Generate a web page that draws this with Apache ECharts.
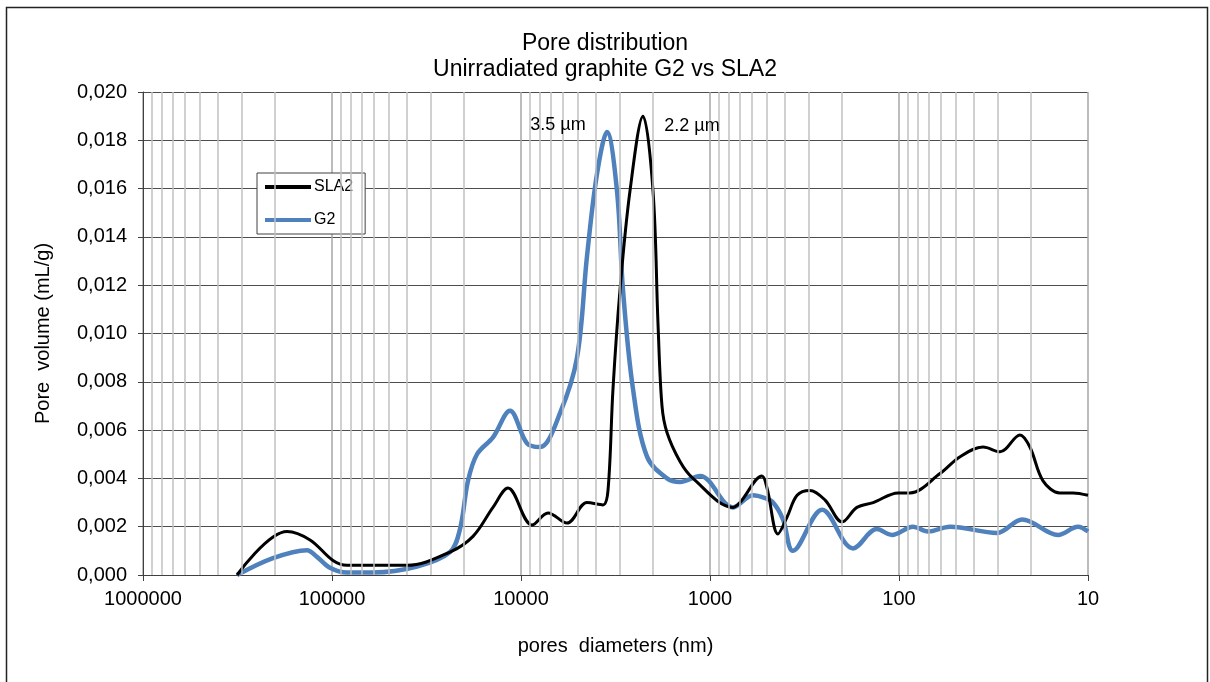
<!DOCTYPE html>
<html>
<head>
<meta charset="utf-8">
<script src="https://cdn.jsdelivr.net/npm/echarts@6/dist/echarts.min.js"></script>
<style>
  html, body { margin: 0; padding: 0; background: #fff; }
  #main { width: 1210px; height: 682px; }
</style>
</head>
<body>
<div id="main"></div>
<script>
// pore diameters (nm) and pore volumes (mL/g)
const sla2Diam = [318000, 173000, 130700, 98800, 83300, 60000, 40100, 23750, 17950, 14070, 11720, 8745, 7195, 5710, 4475, 3683, 3465, 3261, 2994, 2651, 2262, 2002, 1884, 1795, 1689, 1441, 1230, 755, 694, 531, 499, 437, 391, 346, 296, 246, 200, 167, 137, 101, 87.5, 60.7, 47.5, 35.9, 29.2, 22.9, 20.3, 17.3, 14.1, 12.0, 10]
const sla2Vol = [0, 0.0018, 0.00145, 0.0006, 0.0004, 0.0004, 0.0004, 0.00095, 0.0016, 0.0028, 0.0036, 0.00207, 0.00257, 0.00215, 0.003, 0.0029, 0.0035, 0.0077, 0.0118, 0.0159, 0.019, 0.0159, 0.0104, 0.007, 0.0059, 0.0047, 0.004, 0.0028, 0.003, 0.0041, 0.0036, 0.0017, 0.0024, 0.0033, 0.0035, 0.0031, 0.0022, 0.0028, 0.003, 0.0034, 0.0034, 0.0042, 0.0049, 0.0053, 0.0051, 0.0058, 0.0053, 0.0039, 0.0034, 0.0034, 0.0033]

const g2Diam = [318000, 205200, 135600, 120100, 102500, 83300, 60700, 35500, 23750, 21030, 19070, 17090, 14070, 11440, 9296, 7935, 6218, 5054, 4475, 3963, 3508, 3105, 2886, 2555, 2154, 1689, 1441, 1129, 755, 592, 520, 464, 411, 364, 255, 175, 131, 109, 84.3, 70.3, 53.7, 30.3, 22.3, 14.4, 11.3, 10]
const g2Vol = [0, 0.0007, 0.00103, 0.00075, 0.0003, 0.0001, 0.0001, 0.00035, 0.00095, 0.0019, 0.0039, 0.005, 0.0057, 0.0068, 0.00545, 0.0053, 0.0067, 0.009, 0.0132, 0.0166, 0.01834, 0.0159, 0.0118, 0.0077, 0.0049, 0.004, 0.00385, 0.0041, 0.0028, 0.0033, 0.0032, 0.003, 0.0023, 0.001, 0.0027, 0.0011, 0.0019, 0.00166, 0.002, 0.0018, 0.002, 0.00174, 0.0023, 0.00166, 0.002, 0.0018]

// peak annotations
const peakLabels = ['3.5 µm', '2.2 µm']

// minor gridlines of the log axis
const decades = [10, 100, 1000, 10000, 100000]
const minorMults = [2, 3, 4, 5, 6, 7, 8, 9]

const font = 'Liberation Sans, Arial, sans-serif'

const zip = (xs, ys) => xs.map((x, i) => [x, ys[i]])

const minorLines = []
decades.forEach(d => minorMults.forEach(m => minorLines.push({ xAxis: d * m })))

const chart = echarts.init(document.getElementById('main'), null, { renderer: 'canvas' })

const option = {
  animation: false,
  backgroundColor: '#fff',
  textStyle: { fontFamily: font },
  title: {
    text: 'Pore distribution\nUnirradiated graphite G2 vs SLA2',
    left: 'center',
    top: 26,
    textStyle: { fontFamily: font, fontSize: 23, fontWeight: 'normal', color: '#000', lineHeight: 26 }
  },
  graphic: [{
    type: 'rect',
    left: 4,
    top: 5,
    shape: { width: 1201, height: 700 },
    style: { fill: 'none', stroke: '#222', lineWidth: 1.5 },
    silent: true
  }],
  legend: {
    data: ['SLA2', 'G2'],
    orient: 'vertical',
    left: 257,
    top: 173,
    padding: [6, 12, 6, 8],
    itemGap: 17,
    itemWidth: 46,
    itemHeight: 4,
    icon: 'rect',
    backgroundColor: '#fff',
    borderColor: '#404040',
    borderWidth: 1,
    textStyle: { fontFamily: font, fontSize: 16, color: '#000', padding: [0, 0, 0, -2] }
  },
  grid: { left: 143, right: 122, top: 92, bottom: 107, containLabel: false },
  xAxis: {
    type: 'log',
    logBase: 10,
    min: 10,
    max: 1000000,
    inverse: true,
    name: 'pores  diameters (nm)',
    nameLocation: 'middle',
    nameGap: 61,
    nameTextStyle: { fontFamily: font, fontSize: 20, color: '#000' },
    axisLine: { lineStyle: { color: '#404040', width: 1 } },
    axisTick: { show: true, length: 6, lineStyle: { color: '#404040' } },
    axisLabel: {
      margin: 14,
      fontFamily: font,
      fontSize: 20,
      color: '#000',
      formatter: v => String(Math.round(v))
    },
    splitLine: { show: true, lineStyle: { color: '#a6a6a6', width: 1.5 } }
  },
  yAxis: {
    type: 'value',
    min: 0,
    max: 0.02,
    interval: 0.002,
    name: 'Pore  volume (mL/g)',
    nameLocation: 'middle',
    nameGap: 90,
    nameTextStyle: { fontFamily: font, fontSize: 20, color: '#000' },
    axisLine: { show: true, lineStyle: { color: '#404040', width: 1 } },
    axisTick: { show: true, length: 5, lineStyle: { color: '#404040' } },
    axisLabel: {
      margin: 16,
      fontFamily: font,
      fontSize: 20,
      color: '#000',
      formatter: v => v.toFixed(3).replace('.', ',')
    },
    splitLine: { show: true, lineStyle: { color: '#4d4d4d', width: 1 } }
  },
  series: [
    {
      name: 'minor',
      type: 'line',
      data: [],
      z: 1,
      silent: true,
      markLine: {
        silent: true,
        symbol: ['none', 'none'],
        label: { show: false },
        lineStyle: { color: '#c0c0c0', width: 1.5, type: 'solid' },
        data: minorLines
      }
    },
    {
      name: 'SLA2',
      type: 'line',
      data: zip(sla2Diam, sla2Vol),
      showSymbol: false,
      smooth: 0.35,
      z: 4,
      color: '#000',
      lineStyle: { color: '#000', width: 3 },
      markPoint: {
        symbol: 'circle',
        symbolSize: 0,
        silent: true,
        data: [{
          coord: [2262, 0.019],
          label: { show: true, formatter: peakLabels[1], offset: [49, 10], color: '#000', fontSize: 18, fontFamily: font }
        }]
      }
    },
    {
      name: 'G2',
      type: 'line',
      data: zip(g2Diam, g2Vol),
      showSymbol: false,
      smooth: 0.35,
      z: 3,
      color: '#4f81bd',
      lineStyle: { color: '#4f81bd', width: 4.5 },
      markPoint: {
        symbol: 'circle',
        symbolSize: 0,
        silent: true,
        data: [{
          coord: [3508, 0.01834],
          label: { show: true, formatter: peakLabels[0], offset: [-49, -7], color: '#000', fontSize: 18, fontFamily: font }
        }]
      }
    }
  ]
}

chart.setOption(option)
</script>
</body>
</html>
